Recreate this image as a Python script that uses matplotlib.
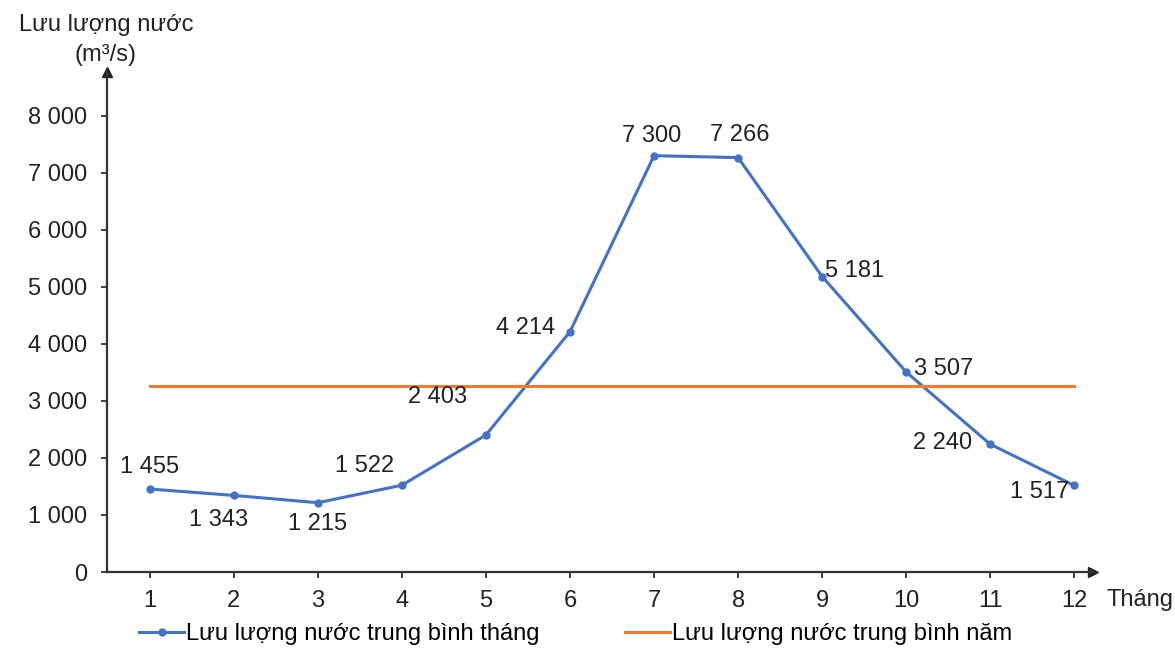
import matplotlib.pyplot as plt
from matplotlib.ticker import FuncFormatter

plt.rcParams['font.family'] = ['Liberation Sans', 'DejaVu Sans']

months = [1, 2, 3, 4, 5, 6, 7, 8, 9, 10, 11, 12]
monthly_flow = [1455, 1343, 1215, 1522, 2403, 4214, 7300, 7266, 5181, 3507, 2240, 1517]
annual_flow = 3264
y_ticks = [0, 1000, 2000, 3000, 4000, 5000, 6000, 7000, 8000]

# label offsets in points (dx, dy) for each monthly value
label_offsets = [(0, 16), (-11, -18), (0, -15), (-27, 14), (-35, 27),
                 (-32, 3), (-2, 14), (1, 16), (23, 4), (27, 2),
                 (-34, 1), (-25, -5)]

blue = '#4472C4'
orange = '#ED7D31'
ink = '#222222'
fs = 17


def space_thousands(v, _pos=None):
    return f"{int(v):,}".replace(",", " ")


fig = plt.figure(figsize=(11.75, 6.59), dpi=100)
ax = fig.add_axes([0.091, 0.132, 0.839, 0.759])

line_month, = ax.plot(months, monthly_flow, color=blue, lw=2.2, marker='o',
                      markersize=5, label='Lưu lượng nước trung bình tháng')
line_year, = ax.plot([months[0], months[-1]], [annual_flow, annual_flow],
                     color=orange, lw=2.2, label='Lưu lượng nước trung bình năm')

for m, v, off in zip(months, monthly_flow, label_offsets):
    ax.annotate(space_thousands(v), (m, v), xytext=off, textcoords='offset points',
                ha='center', va='center', fontsize=fs, color=ink)

ax.set_xlim(0.49, 12.22)
ax.set_ylim(0, 8770)
ax.set_xticks(months)
ax.set_yticks(y_ticks)
ax.yaxis.set_major_formatter(FuncFormatter(space_thousands))
ax.tick_params(labelsize=fs, colors=ink, length=4, width=1.2, pad=9)
ax.tick_params(axis='y', pad=10)

for side in ('top', 'right'):
    ax.spines[side].set_visible(False)
for side in ('left', 'bottom'):
    ax.spines[side].set_linewidth(1.6)
    ax.spines[side].set_color('#333333')

# arrow heads at the end of each axis
ax.plot(1, 0, '>', color=ink, markersize=7, transform=ax.transAxes, clip_on=False)
ax.plot(0, 1, '^', color=ink, markersize=7, transform=ax.transAxes, clip_on=False)

fig.text(106 / 1175, 1 - 40 / 659, 'Lưu lượng nước\n(m³/s)', ha='center', va='center',
         fontsize=fs, color=ink, multialignment='center', linespacing=1.45)
fig.text(1140 / 1175, 1 - 600 / 659, 'Tháng', ha='center', va='center',
         fontsize=fs, color=ink)

fig.legend(handles=[line_month, line_year], loc='center', ncol=2,
           bbox_to_anchor=(0.49, 1 - 634 / 659), frameon=False, fontsize=fs,
           handlelength=1.9, handletextpad=0.1, columnspacing=3.6)

fig.savefig('out.png', dpi=100)
